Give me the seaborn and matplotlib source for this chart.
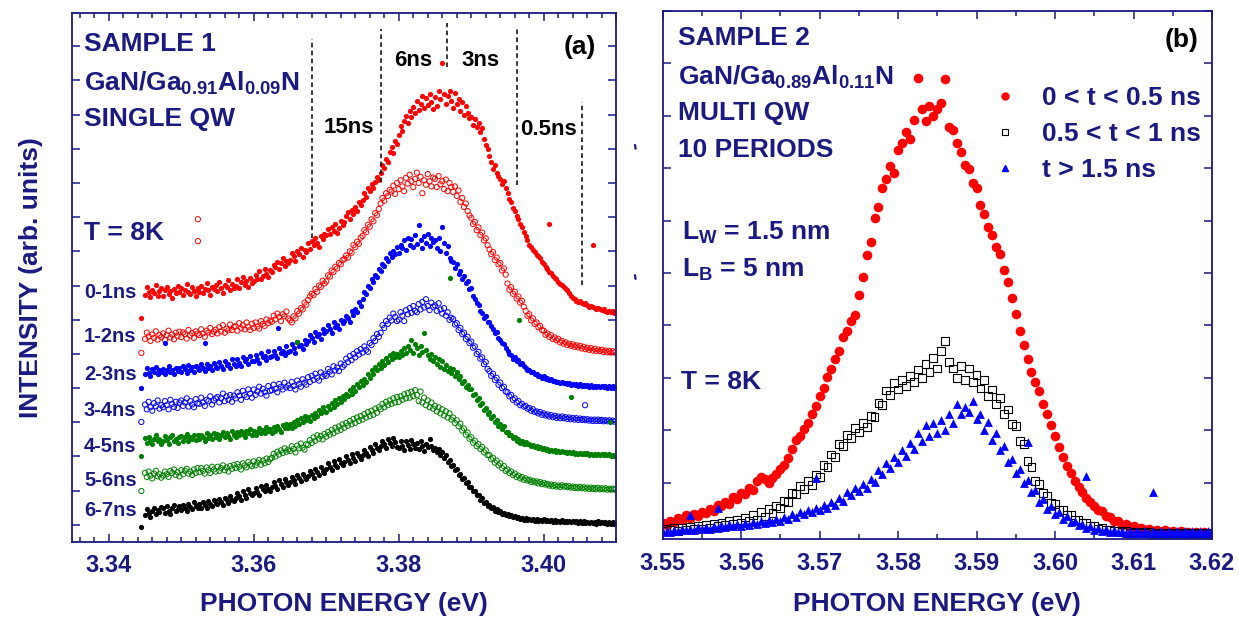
import numpy as np
import pandas as pd
import seaborn as sns
import matplotlib.pyplot as plt
from matplotlib.ticker import MultipleLocator, FormatStrFormatter
from matplotlib.lines import Line2D

# ---------------- panel (a): time-gated spectra, sample 1 ----------------
energy_a = [3.3445,
            3.345, 3.34525, 3.3455, 3.34575, 3.346, 3.34625, 3.3465, 3.34675, 3.347, 3.34725,
            3.3475, 3.34775, 3.348, 3.34825, 3.3485, 3.34875, 3.349, 3.34925, 3.3495, 3.34975,
            3.35, 3.35025, 3.3505, 3.35075, 3.351, 3.35125, 3.3515, 3.35175, 3.352, 3.35225,
            3.3525, 3.35275, 3.353, 3.35325, 3.3535, 3.35375, 3.354, 3.35425, 3.3545, 3.35475,
            3.355, 3.35525, 3.3555, 3.35575, 3.356, 3.35625, 3.3565, 3.35675, 3.357, 3.35725,
            3.3575, 3.35775, 3.358, 3.35825, 3.3585, 3.35875, 3.359, 3.35925, 3.3595, 3.35975,
            3.36, 3.36025, 3.3605, 3.36075, 3.361, 3.36125, 3.3615, 3.36175, 3.362, 3.36225,
            3.3625, 3.36275, 3.363, 3.36325, 3.3635, 3.36375, 3.364, 3.36425, 3.3645, 3.36475,
            3.365, 3.36525, 3.3655, 3.36575, 3.366, 3.36625, 3.3665, 3.36675, 3.367, 3.36725,
            3.3675, 3.36775, 3.368, 3.36825, 3.3685, 3.36875, 3.369, 3.36925, 3.3695, 3.36975,
            3.37, 3.37025, 3.3705, 3.37075, 3.371, 3.37125, 3.3715, 3.37175, 3.372, 3.37225,
            3.3725, 3.37275, 3.373, 3.37325, 3.3735, 3.37375, 3.374, 3.37425, 3.3745, 3.37475,
            3.375, 3.37525, 3.3755, 3.37575, 3.376, 3.37625, 3.3765, 3.37675, 3.377, 3.37725,
            3.3775, 3.37775, 3.378, 3.37825, 3.3785, 3.37875, 3.379, 3.37925, 3.3795, 3.37975,
            3.38, 3.38025, 3.3805, 3.38075, 3.381, 3.38125, 3.3815, 3.38175, 3.382, 3.38225,
            3.3825, 3.38275, 3.383, 3.38325, 3.3835, 3.38375, 3.384, 3.38425, 3.3845, 3.38475,
            3.385, 3.38525, 3.3855, 3.38575, 3.386, 3.38625, 3.3865, 3.38675, 3.387, 3.38725,
            3.3875, 3.38775, 3.388, 3.38825, 3.3885, 3.38875, 3.389, 3.38925, 3.3895, 3.38975,
            3.39, 3.39025, 3.3905, 3.39075, 3.391, 3.39125, 3.3915, 3.39175, 3.392, 3.39225,
            3.3925, 3.39275, 3.393, 3.39325, 3.3935, 3.39375, 3.394, 3.39425, 3.3945, 3.39475,
            3.395, 3.39525, 3.3955, 3.39575, 3.396, 3.39625, 3.3965, 3.39675, 3.397, 3.39725,
            3.3975, 3.39775, 3.398, 3.39825, 3.3985, 3.39875, 3.399, 3.39925, 3.3995, 3.39975,
            3.4, 3.40025, 3.4005, 3.40075, 3.401, 3.40125, 3.4015, 3.40175, 3.402, 3.40225,
            3.4025, 3.40275, 3.403, 3.40325, 3.4035, 3.40375, 3.404, 3.40425, 3.4045, 3.40475,
            3.405, 3.40525, 3.4055, 3.40575, 3.406, 3.40625, 3.4065, 3.40675, 3.407, 3.40725,
            3.4075, 3.40775, 3.408, 3.40825, 3.4085, 3.40875, 3.409, 3.40925, 3.4095, 3.40975]

# intensity above each trace's offset (arb. units, 100 per y tick)
spec_0_1 = [5,
            72, 95, 81, 66, 88, 79, 101, 70, 84, 92,
            68, 86, 97, 75, 83, 64, 90, 78, 99, 82,
            93, 71, 88, 104, 80, 74, 96, 85, 69, 92,
            81, 100, 77, 91, 108, 86, 73, 95, 89, 102,
            85, 110, 92, 79, 101, 96, 115, 88, 104, 93,
            99, 118, 92, 110, 124, 101, 112, 97, 121, 108,
            113, 131, 120, 142, 118, 128, 148, 133, 125, 146,
            141, 160, 153, 170, 148, 165, 180, 158, 172, 167,
            176, 194, 185, 172, 200, 191, 210, 183, 204, 198,
            224, 206, 230, 218, 240, 225, 212, 246, 236, 252,
            248, 266, 252, 272, 260, 280, 255, 268, 290, 276,
            286, 302, 315, 296, 320, 309, 331, 318, 344, 336,
            350, 372, 358, 385, 376, 398, 384, 404, 418, 410,
            430, 452, 445, 470, 462, 490, 505, 488, 522, 515,
            540, 566, 552, 580, 596, 575, 610, 592, 622, 605,
            640, 612, 630, 655, 620, 648, 628, 660, 638, 615,
            652, 625, 668, 645, 750, 660, 632, 655, 670, 640,
            618, 662, 630, 645, 610, 636, 598, 625, 605, 590,
            592, 570, 588, 565, 575, 548, 560, 530, 512, 498,
            478, 462, 440, 452, 428, 420, 412, 398, 405, 385,
            370, 352, 345, 328, 318, 302, 296, 280, 270, 258,
            245, 232, 218, 212, 205, 198, 190, 186, 180, 170,
            162, 155, 148, 140, 136, 128, 122, 118, 110, 104,
            102, 96, 90, 86, 78, 70, 64, 60, 56, 52,
            54, 50, 46, 48, 42, 38, 40, 36, 34, 32,
            35, 30, 28, 32, 26, 24, 27, 22, 25, 21]

spec_1_2 = [3,
            44, 62, 51, 38, 57, 47, 66, 42, 55, 49,
            60, 41, 55, 68, 48, 57, 43, 62, 52, 65,
            49, 63, 58, 45, 70, 54, 61, 47, 66, 59,
            55, 72, 60, 50, 68, 63, 76, 58, 65, 71,
            60, 78, 66, 84, 62, 74, 69, 86, 70, 79,
            81, 68, 90, 75, 84, 72, 92, 79, 70, 88,
            76, 92, 80, 74, 96, 88, 82, 101, 90, 97,
            94, 112, 101, 118, 108, 96, 116, 110, 124, 104,
            98, 92, 110, 104, 125, 118, 134, 130, 150, 144,
            158, 168, 176, 172, 190, 182, 200, 196, 214, 206,
            212, 230, 226, 244, 240, 255, 250, 266, 262, 274,
            278, 288, 282, 300, 296, 318, 312, 328, 322, 340,
            345, 362, 356, 378, 372, 394, 388, 412, 406, 424,
            440, 456, 448, 470, 462, 480, 475, 492, 468, 500,
            482, 508, 490, 476, 515, 498, 524, 505, 488, 512,
            530, 500, 518, 470, 508, 495, 526, 505, 490, 516,
            512, 488, 520, 496, 505, 482, 510, 476, 500, 488,
            474, 490, 462, 478, 445, 456, 430, 440, 418, 405,
            398, 380, 386, 362, 370, 348, 355, 332, 338, 318,
            306, 292, 298, 275, 282, 262, 266, 244, 250, 232,
            206, 188, 195, 176, 182, 162, 168, 150, 155, 138,
            126, 112, 116, 98, 104, 88, 92, 78, 82, 70,
            68, 56, 60, 50, 55, 44, 48, 40, 44, 34,
            38, 30, 34, 26, 30, 24, 28, 21, 25, 19,
            24, 16, 21, 14, 18, 12, 17, 10, 15, 9,
            13, 8, 12, 6, 10, 5, 9, 4, 8, 4]

spec_2_3 = [0,
            40, 58, 45, 36, 55, 48, 62, 41, 52, 46,
            57, 42, 52, 64, 46, 54, 40, 60, 50, 58,
            48, 64, 56, 45, 68, 52, 61, 47, 66, 58,
            52, 70, 60, 50, 72, 58, 66, 54, 74, 62,
            58, 76, 64, 56, 80, 68, 72, 60, 84, 70,
            66, 86, 74, 64, 90, 78, 84, 70, 94, 80,
            78, 96, 84, 74, 102, 90, 94, 82, 108, 92,
            94, 110, 98, 88, 116, 104, 108, 96, 122, 106,
            110, 128, 116, 104, 134, 122, 126, 114, 142, 130,
            138, 156, 146, 134, 164, 152, 158, 144, 172, 160,
            166, 184, 172, 160, 192, 180, 186, 172, 200, 190,
            196, 212, 204, 194, 226, 214, 230, 222, 252, 240,
            262, 282, 276, 300, 294, 318, 310, 332, 326, 348,
            344, 362, 356, 380, 372, 396, 384, 402, 392, 414,
            396, 420, 410, 432, 404, 440, 418, 436, 412, 448,
            422, 476, 434, 410, 445, 425, 452, 416, 440, 428,
            432, 410, 438, 402, 470, 425, 396, 415, 380, 372,
            368, 350, 362, 334, 342, 318, 328, 306, 312, 290,
            292, 270, 262, 248, 244, 226, 220, 206, 210, 192,
            194, 182, 172, 160, 164, 148, 140, 132, 128, 118,
            108, 100, 96, 86, 90, 80, 82, 72, 74, 64,
            60, 54, 52, 46, 46, 40, 42, 36, 36, 30,
            34, 28, 30, 24, 26, 20, 22, 17, 19, 14,
            19, 14, 16, 12, 14, 10, 12, 8, 11, 7,
            12, 7, 10, 5, 9, 4, 8, 3, 7, 3,
            7, 3, 6, 2, 6, 1, 5, 1, 5, 1]

spec_3_4 = [1,
            52, 38, 60, 44, 34, 56, 47, 64, 40, 50,
            44, 62, 50, 38, 66, 54, 45, 60, 42, 58,
            64, 48, 58, 70, 46, 62, 52, 44, 68, 56,
            54, 72, 58, 48, 66, 62, 76, 52, 64, 70,
            74, 58, 70, 84, 62, 76, 66, 80, 60, 78,
            70, 88, 78, 66, 92, 80, 74, 96, 84, 72,
            96, 80, 90, 104, 84, 98, 88, 78, 106, 92,
            94, 110, 98, 88, 112, 104, 96, 116, 102, 108,
            100, 118, 106, 96, 122, 112, 104, 126, 116, 110,
            132, 118, 136, 124, 142, 130, 122, 146, 134, 140,
            136, 156, 148, 140, 164, 152, 160, 150, 172, 162,
            168, 186, 176, 194, 182, 200, 190, 208, 198, 214,
            204, 222, 212, 206, 232, 226, 246, 238, 258, 250,
            262, 284, 276, 296, 288, 306, 298, 318, 308, 296,
            300, 322, 312, 296, 328, 316, 334, 320, 340, 326,
            322, 346, 330, 352, 336, 360, 340, 328, 350, 338,
            342, 326, 348, 330, 318, 334, 312, 322, 300, 306,
            302, 286, 290, 270, 276, 258, 262, 244, 250, 232,
            236, 218, 222, 200, 206, 186, 190, 170, 176, 156,
            150, 136, 142, 124, 130, 110, 116, 100, 104, 90,
            88, 76, 80, 66, 70, 58, 62, 50, 54, 46,
            48, 40, 42, 34, 38, 30, 32, 26, 30, 22,
            26, 20, 23, 17, 21, 15, 19, 13, 17, 12,
            17, 12, 15, 10, 14, 9, 13, 8, 12, 7,
            11, 7, 10, 6, 9, 5, 8, 4, 8, 4,
            8, 4, 7, 3, 6, 3, 6, 2, 5, 2]

spec_4_5 = [1,
            54, 40, 58, 46, 36, 52, 62, 44, 50, 38,
            44, 60, 48, 38, 56, 64, 46, 52, 40, 58,
            60, 46, 56, 66, 44, 58, 50, 64, 48, 62,
            50, 64, 58, 46, 68, 54, 62, 50, 70, 58,
            66, 52, 62, 72, 56, 68, 60, 50, 74, 64,
            58, 72, 62, 76, 66, 56, 74, 68, 80, 62,
            76, 62, 72, 84, 68, 78, 70, 86, 74, 80,
            70, 86, 76, 90, 80, 72, 92, 84, 96, 82,
            94, 82, 100, 90, 106, 96, 112, 102, 118, 108,
            116, 104, 122, 112, 128, 118, 136, 126, 144, 132,
            130, 148, 140, 156, 146, 164, 154, 172, 160, 178,
            168, 184, 176, 194, 184, 202, 192, 212, 202, 220,
            208, 228, 218, 240, 230, 252, 242, 262, 254, 272,
            260, 278, 268, 288, 276, 296, 284, 304, 292, 300,
            290, 310, 298, 316, 304, 322, 312, 340, 302, 330,
            318, 296, 324, 306, 360, 312, 298, 286, 300, 278,
            292, 270, 286, 262, 278, 256, 268, 250, 260, 244,
            256, 236, 248, 226, 234, 214, 222, 204, 210, 196,
            196, 180, 184, 164, 170, 150, 156, 136, 142, 124,
            130, 114, 118, 100, 106, 90, 96, 80, 88, 72,
            72, 62, 64, 54, 56, 46, 50, 40, 46, 38,
            42, 36, 38, 32, 34, 28, 30, 24, 28, 22,
            26, 20, 22, 17, 20, 15, 18, 13, 16, 12,
            16, 12, 14, 10, 13, 9, 12, 8, 11, 7,
            11, 7, 10, 6, 9, 5, 8, 4, 8, 4,
            8, 4, 7, 3, 6, 3, 6, 2, 5, 2]

spec_5_6 = [-1,
            52, 40, 56, 44, 36, 50, 58, 42, 48, 38,
            44, 56, 48, 40, 58, 52, 62, 46, 54, 42,
            60, 48, 58, 64, 50, 56, 46, 62, 52, 66,
            54, 66, 58, 50, 68, 60, 52, 70, 62, 56,
            70, 58, 66, 74, 60, 68, 56, 72, 64, 76,
            66, 78, 70, 62, 80, 74, 68, 84, 76, 72,
            86, 74, 82, 90, 76, 88, 80, 94, 84, 92,
            96, 108, 100, 114, 106, 118, 110, 124, 114, 120,
            116, 130, 122, 112, 132, 124, 138, 126, 120, 136,
            134, 148, 140, 156, 146, 162, 152, 160, 150, 166,
            158, 172, 164, 178, 168, 184, 174, 188, 178, 194,
            184, 198, 190, 204, 194, 210, 198, 214, 204, 218,
            208, 224, 214, 230, 218, 234, 222, 240, 228, 244,
            238, 254, 244, 260, 250, 264, 254, 270, 258, 274,
            260, 276, 266, 282, 270, 286, 272, 290, 276, 294,
            280, 262, 290, 258, 272, 250, 264, 244, 258, 240,
            248, 232, 244, 226, 238, 220, 232, 214, 226, 208,
            214, 198, 206, 188, 196, 176, 182, 164, 170, 152,
            156, 140, 146, 130, 136, 122, 128, 112, 118, 104,
            104, 92, 96, 82, 88, 74, 80, 66, 72, 58,
            62, 52, 56, 46, 50, 40, 44, 36, 40, 32,
            36, 30, 32, 26, 29, 24, 27, 21, 25, 19,
            23, 18, 20, 15, 18, 13, 17, 12, 15, 11,
            16, 12, 14, 10, 13, 9, 12, 8, 11, 7,
            11, 7, 10, 6, 9, 5, 9, 5, 8, 4,
            8, 4, 7, 4, 7, 3, 6, 3, 6, 3]

spec_6_7 = [-6,
            30, 46, 36, 24, 42, 50, 32, 44, 38, 52,
            48, 36, 54, 42, 32, 50, 58, 40, 46, 56,
            44, 58, 50, 40, 62, 52, 46, 66, 56, 48,
            62, 50, 68, 58, 48, 70, 60, 54, 74, 64,
            60, 76, 66, 58, 80, 72, 64, 84, 74, 70,
            78, 94, 84, 74, 100, 88, 80, 104, 92, 86,
            92, 108, 96, 88, 114, 104, 98, 118, 106, 100,
            110, 126, 114, 104, 130, 120, 112, 134, 124, 118,
            124, 140, 130, 120, 146, 136, 128, 150, 140, 134,
            142, 158, 148, 138, 164, 154, 146, 170, 158, 152,
            164, 180, 170, 160, 186, 176, 168, 192, 182, 176,
            184, 200, 190, 180, 206, 196, 188, 210, 200, 194,
            204, 220, 210, 202, 228, 218, 210, 236, 226, 220,
            230, 246, 236, 224, 250, 240, 232, 254, 242, 228,
            224, 244, 232, 218, 246, 234, 222, 248, 236, 226,
            240, 222, 246, 230, 216, 238, 228, 250, 232, 220,
            226, 212, 222, 204, 214, 196, 204, 184, 190, 172,
            176, 160, 164, 146, 150, 134, 138, 122, 126, 112,
            110, 98, 100, 86, 88, 74, 78, 64, 68, 56,
            58, 50, 52, 42, 46, 38, 40, 32, 36, 28,
            32, 26, 28, 22, 25, 19, 22, 16, 20, 14,
            20, 15, 18, 13, 17, 12, 16, 11, 15, 10,
            16, 11, 15, 10, 14, 9, 13, 8, 12, 8,
            13, 9, 12, 8, 11, 7, 11, 7, 10, 6,
            11, 6, 10, 6, 9, 5, 9, 5, 8, 4,
            10, 5, 9, 5, 8, 4, 8, 4, 7, 4]

gates = ['0-1ns', '1-2ns', '2-3ns', '3-4ns', '4-5ns', '5-6ns', '6-7ns']
gate_offsets = [600, 500, 400, 300, 200, 100, 0]

# isolated points off the curves: (gate, energy, intensity above offset)
stray_gate = ['0-1ns', '0-1ns', '1-2ns', '1-2ns', '2-3ns', '2-3ns', '2-3ns',
              '3-4ns', '4-5ns', '4-5ns', '4-5ns', '4-5ns', '4-5ns']
stray_energy = [3.4007, 3.4068, 3.3523, 3.3523, 3.3478, 3.3533, 3.3634,
                3.4057, 3.366, 3.387, 3.3966, 3.4037, 3.4092]
stray_value = [280, 218, 394, 330, 132, 132, 176,
               50, 335, 522, 399, 174, 101]

# integration windows marked by dashed lines
window_edges = [3.368, 3.3776, 3.3867, 3.3963, 3.4053]
window_low = [839, 1003, 1339, 994, 701]
window_high = [1421, 1450, 1468, 1453, 1237]
window_names = ['15ns', '6ns', '3ns', '0.5ns']
window_name_e = [3.3731, 3.382, 3.3913, 3.4007]
window_name_y = [1161, 1359, 1359, 1155]

# ---------------- panel (b): sample 2 ----------------
energy_b = [3.550, 3.5505, 3.551, 3.5515, 3.552, 3.5525, 3.553, 3.5535, 3.554, 3.5545,
            3.555, 3.5555, 3.556, 3.5565, 3.557, 3.5575, 3.558, 3.5585, 3.559, 3.5595,
            3.560, 3.5605, 3.561, 3.5615, 3.562, 3.5625, 3.563, 3.5635, 3.564, 3.5645,
            3.565, 3.5655, 3.566, 3.5665, 3.567, 3.5675, 3.568, 3.5685, 3.569, 3.5695,
            3.570, 3.5705, 3.571, 3.5715, 3.572, 3.5725, 3.573, 3.5735, 3.574, 3.5745,
            3.575, 3.5755, 3.576, 3.5765, 3.577, 3.5775, 3.578, 3.5785, 3.579, 3.5795,
            3.580, 3.5805, 3.581, 3.5815, 3.582, 3.5825, 3.583, 3.5835, 3.584, 3.5845,
            3.585, 3.5855, 3.586, 3.5865, 3.587, 3.5875, 3.588, 3.5885, 3.589, 3.5895,
            3.590, 3.5905, 3.591, 3.5915, 3.592, 3.5925, 3.593, 3.5935, 3.594, 3.5945,
            3.595, 3.5955, 3.596, 3.5965, 3.597, 3.5975, 3.598, 3.5985, 3.599, 3.5995,
            3.600, 3.6005, 3.601, 3.6015, 3.602, 3.6025, 3.603, 3.6035, 3.604, 3.6045,
            3.605, 3.6055, 3.606, 3.6065, 3.607, 3.6075, 3.608, 3.6085, 3.609, 3.6095,
            3.610, 3.6105, 3.611, 3.6115, 3.612, 3.6125, 3.613, 3.6135, 3.614, 3.6145,
            3.615, 3.6155, 3.616, 3.6165, 3.617, 3.6175, 3.618, 3.6185, 3.619, 3.6195,
            3.620]

int_early = [24, 20, 28, 25, 34, 30, 38, 33, 40, 37,
             44, 42, 50, 47, 58, 55, 64, 60, 74, 70,
             80, 78, 90, 86, 104, 112, 108, 100, 110, 116,
             126, 134, 148, 164, 182, 190, 202, 215, 232, 246,
             266, 280, 302, 318, 336, 352, 378, 390, 408, 420,
             458, 492, 534, 560, 604, 625, 662, 680, 704, 690,
             735, 748, 768, 755, 792, 872, 812, 790, 818, 800,
             812, 825, 870, 778, 772, 748, 730, 705, 698, 672,
             662, 630, 612, 588, 572, 550, 536, 505, 482, 452,
             422, 390, 362, 336, 312, 292, 276, 250, 232, 210,
             190, 168, 150, 132, 118, 104, 92, 82, 72, 64,
             56, 48, 46, 36, 35, 28, 27, 20, 21, 16,
             17, 12, 14, 10, 12, 8, 11, 7, 10, 6,
             9, 5, 8, 5, 7, 4, 7, 4, 6, 4,
             5]

int_mid = [8, 12, 10, 14, 9, 15, 11, 16, 12, 18,
           13, 19, 15, 22, 17, 24, 20, 28, 22, 30,
           24, 34, 27, 38, 30, 44, 36, 50, 42, 56,
           52, 66, 64, 80, 78, 94, 88, 104, 96, 116,
           112, 134, 130, 154, 150, 174, 170, 192, 186, 204,
           196, 214, 206, 228, 226, 252, 248, 276, 268, 290,
           278, 296, 284, 304, 292, 316, 300, 326, 312, 338,
           318, 352, 370, 330, 318, 300, 322, 296, 318, 292,
           306, 280, 296, 266, 278, 250, 262, 232, 240, 212,
           208, 180, 174, 142, 130, 104, 98, 80, 76, 62,
           60, 48, 48, 38, 38, 30, 30, 24, 24, 18,
           18, 13, 14, 10, 11, 8, 9, 6, 8, 5,
           7, 4, 6, 4, 6, 3, 5, 3, 5, 3,
           5, 3, 5, 3, 4, 3, 4, 3, 4, 3,
           4]

int_late = [6, 9, 7, 10, 8, 12, 10, 13, 11, 15,
            12, 16, 13, 17, 14, 19, 16, 21, 17, 22,
            18, 24, 20, 26, 22, 28, 24, 30, 26, 32,
            28, 35, 32, 40, 35, 44, 40, 48, 44, 52,
            48, 58, 52, 64, 58, 72, 66, 82, 76, 90,
            84, 98, 90, 108, 102, 124, 116, 138, 128, 150,
            140, 162, 152, 176, 164, 196, 180, 210, 190, 214,
            196, 220, 200, 232, 214, 250, 232, 244, 236, 256,
            222, 232, 200, 216, 182, 196, 162, 170, 140, 146,
            118, 126, 100, 106, 82, 86, 64, 70, 50, 56,
            40, 44, 32, 36, 25, 28, 19, 22, 14, 17,
            11, 14, 9, 12, 7, 10, 6, 9, 5, 8,
            5, 8, 4, 8, 4, 8, 4, 8, 4, 8,
            4, 8, 4, 8, 4, 8, 4, 8, 4, 8,
            4]

late_stray_energy = [3.5535, 3.557, 3.5695, 3.5965, 3.604, 3.6125]
late_stray_value = [39, 52, 110, 178, 113, 83]

windows_b = ['0 < t < 0.5 ns', '0.5 < t < 1 ns', 't > 1.5 ns']

NAVY = '#1a1a80'

sns.set_style('ticks')
plt.rcParams['font.family'] = ['Liberation Sans', 'DejaVu Sans']
plt.rcParams['font.weight'] = 'bold'
plt.rcParams['mathtext.fontset'] = 'custom'
plt.rcParams['mathtext.rm'] = 'Liberation Sans:bold'
plt.rcParams['mathtext.it'] = 'Liberation Sans:bold'
plt.rcParams['mathtext.bf'] = 'Liberation Sans:bold'
plt.rcParams['mathtext.default'] = 'rm'


def style_axes(ax):
    for sp in ax.spines.values():
        sp.set_color(NAVY)
        sp.set_linewidth(1.3)
    ax.tick_params(which='both', direction='in', top=True, right=True,
                   color=NAVY, width=1.1, labelcolor=NAVY, labelsize=17, pad=9)
    ax.tick_params(which='major', length=6)
    ax.tick_params(which='minor', length=3.5)
    ax.tick_params(axis='y', labelleft=False)
    for lab in ax.get_xticklabels():
        lab.set_fontweight('bold')


# long tables for seaborn
rows = []
specs = [spec_0_1, spec_1_2, spec_2_3, spec_3_4, spec_4_5, spec_5_6, spec_6_7]
for g, off, sp in zip(gates, gate_offsets, specs):
    for e, v in zip(energy_a, sp):
        rows.append((g, e, v + off))
for g, e, v in zip(stray_gate, stray_energy, stray_value):
    rows.append((g, e, v + gate_offsets[gates.index(g)]))
df_a = pd.DataFrame(rows, columns=['gate', 'energy', 'intensity'])

df_b = pd.DataFrame({'energy': energy_b, 'early': int_early,
                     'mid': int_mid, 'late': int_late})
df_b_stray = pd.DataFrame({'energy': late_stray_energy, 'late': late_stray_value})

fig = plt.figure(figsize=(12.39, 6.17), dpi=100)
ax_a = fig.add_axes([0.0585, 0.1216, 0.4389, 0.8578])
ax_b = fig.add_axes([0.5348, 0.1264, 0.4434, 0.8562])

# ---- panel (a)
gate_colors = ['#ff0000', '#ff0000', '#0000ff', '#0000ff', '#008000', '#008000', '#000000']
gate_open = [False, True, False, True, False, True, False]
for g, c, op in zip(gates, gate_colors, gate_open):
    sub = df_a[df_a.gate == g]
    if op:
        sns.scatterplot(data=sub, x='energy', y='intensity', ax=ax_a, marker='o',
                        s=14, facecolor='none', edgecolor=c, linewidth=0.7, legend=False)
    else:
        sns.scatterplot(data=sub, x='energy', y='intensity', ax=ax_a, marker='o',
                        s=14, color=c, edgecolor=c, linewidth=0, legend=False)

ax_a.vlines(window_edges, window_low, window_high, colors='black',
            linestyles=(0, (3, 2.2)), linewidth=1.1)
for name, e, y in zip(window_names, window_name_e, window_name_y):
    ax_a.text(e, y, name, ha='center', va='center', fontsize=16,
              fontweight='bold', color='black')

ax_a.set_xlim(3.335, 3.410)
ax_a.set_ylim(-50, 1498)
ax_a.xaxis.set_major_locator(MultipleLocator(0.02))
ax_a.xaxis.set_minor_locator(MultipleLocator(0.002))
ax_a.xaxis.set_major_formatter(FormatStrFormatter('%.2f'))
ax_a.yaxis.set_major_locator(MultipleLocator(100))
style_axes(ax_a)
ax_a.set_xlabel('PHOTON ENERGY (eV)', fontsize=19, fontweight='bold', color=NAVY)
ax_a.set_ylabel('INTENSITY (arb. units)', fontsize=19, fontweight='bold', color=NAVY)
ax_a.xaxis.set_label_coords(0.5, -0.095)
ax_a.yaxis.set_label_coords(-0.054, 0.5)

tkw = dict(transform=ax_a.transAxes, color=NAVY, fontweight='bold', va='center', ha='left')
ax_a.text(0.021, 0.941, 'SAMPLE 1', fontsize=19, **tkw)
ax_a.text(0.021, 0.867, 'GaN/Ga$_{0.91}$Al$_{0.09}$N', fontsize=19, **tkw)
ax_a.text(0.021, 0.799, 'SINGLE QW', fontsize=19, **tkw)
ax_a.text(0.021, 0.584, 'T = 8K', fontsize=19, **tkw)
label_y = [0.472, 0.389, 0.316, 0.249, 0.181, 0.117, 0.060]
for g, ly in zip(gates, label_y):
    ax_a.text(0.021, ly, g, fontsize=14.5, **tkw)
ax_a.text(0.933, 0.936, '(a)', transform=ax_a.transAxes, fontsize=19,
          fontweight='bold', color='black', ha='center', va='center')

# ---- panel (b)
sns.scatterplot(data=df_b, x='energy', y='early', ax=ax_b, marker='o', s=48,
                color='#ff0000', edgecolor='#ff0000', linewidth=0, legend=False)
sns.scatterplot(data=df_b, x='energy', y='mid', ax=ax_b, marker='s', s=32,
                facecolor='none', edgecolor='black', linewidth=0.8, legend=False)
sns.scatterplot(data=df_b, x='energy', y='late', ax=ax_b, marker='^', s=40,
                color='#0000ff', edgecolor='#0000ff', linewidth=0, legend=False)
sns.scatterplot(data=df_b_stray, x='energy', y='late', ax=ax_b, marker='^', s=40,
                color='#0000ff', edgecolor='#0000ff', linewidth=0, legend=False)

ax_b.set_xlim(3.55, 3.62)
ax_b.set_ylim(-7, 1000)
ax_b.xaxis.set_major_locator(MultipleLocator(0.01))
ax_b.xaxis.set_minor_locator(MultipleLocator(0.005))
ax_b.xaxis.set_major_formatter(FormatStrFormatter('%.2f'))
ax_b.yaxis.set_major_locator(MultipleLocator(100))
style_axes(ax_b)
ax_b.set_xlabel('PHOTON ENERGY (eV)', fontsize=19, fontweight='bold', color=NAVY)
ax_b.set_ylabel('')
ax_b.xaxis.set_label_coords(0.5, -0.100)

tkw = dict(transform=ax_b.transAxes, color=NAVY, fontweight='bold', va='center', ha='left')
ax_b.text(0.028, 0.948, 'SAMPLE 2', fontsize=19, **tkw)
ax_b.text(0.028, 0.874, 'GaN/Ga$_{0.89}$Al$_{0.11}$N', fontsize=19, **tkw)
ax_b.text(0.028, 0.806, 'MULTI QW', fontsize=19, **tkw)
ax_b.text(0.028, 0.736, '10 PERIODS', fontsize=19, **tkw)
ax_b.text(0.035, 0.579, 'L$_{W}$ = 1.5 nm', fontsize=19, **tkw)
ax_b.text(0.035, 0.509, 'L$_{B}$ = 5 nm', fontsize=19, **tkw)
ax_b.text(0.033, 0.298, 'T = 8K', fontsize=19, **tkw)
ax_b.text(0.945, 0.945, '(b)', transform=ax_b.transAxes, fontsize=19,
          fontweight='bold', color='black', ha='center', va='center')

handles = [Line2D([], [], ls='none', marker='o', ms=5, color='#ff0000', mec='#ff0000'),
           Line2D([], [], ls='none', marker='s', ms=4.5, mfc='none', mec='black', mew=0.8),
           Line2D([], [], ls='none', marker='^', ms=5, color='#0000ff', mec='#0000ff')]
leg = ax_b.legend(handles, windows_b, loc='upper left', bbox_to_anchor=(0.599, 0.857),
                  frameon=False, handlelength=1.0, handletextpad=0.9,
                  labelspacing=0.45, borderaxespad=0, borderpad=0,
                  prop={'size': 19, 'weight': 'bold'})
for t in leg.get_texts():
    t.set_color(NAVY)

# two stray specks left of panel (b)
for yy in (0.762, 0.551):
    fig.add_artist(Line2D([0.5125, 0.5130], [yy + 0.003, yy - 0.003], color=NAVY, lw=1.6))

fig.savefig('out.png', dpi=100)
